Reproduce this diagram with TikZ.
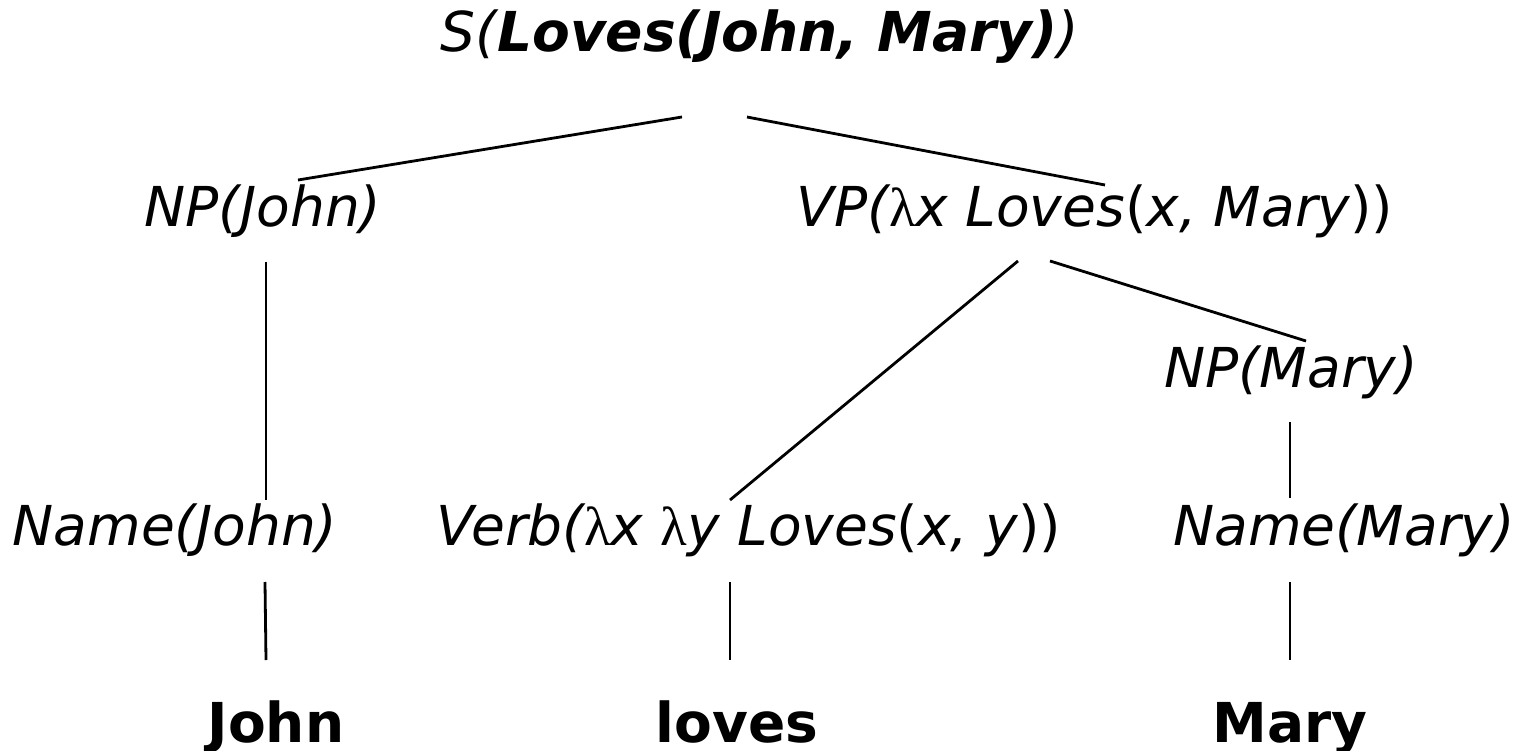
\documentclass[tikz,border=0pt]{standalone}
\usepackage{fontspec}
\setmainfont{DejaVu Sans}
\newfontfamily\lamfont{Liberation Serif}
\usetikzlibrary{calc}
\tikzset{
    word/.style={anchor=base, inner sep=0pt, font=\fontsize{55}{64}\selectfont\itshape}, % 结点文字
    leaf/.style={anchor=base, inner sep=0pt, text depth=0pt, font=\fontsize{55}{64}\selectfont\bfseries}, % 叶子
    edge/.style={line width=2.8pt} % 连线
}
\newcommand{\lam}{{\upshape\lamfont λ}}
\newcommand{\up}[1]{{\upshape #1}}

\begin{document}
\begin{tikzpicture}[x=1pt, y=-1pt]
    \useasboundingbox (0,0) rectangle (1526,751);

    \node[word] (s) at (760,52) {S(\textbf{Loves(John, Mary)})};
    \node[word] (npj) at (263,227) {NP(John)};
    \node[word] (vp) at (1095,227) {VP(\lam x Loves\up{(}x, Mary\up{))}};
    \node[word] (npm) at (1291,387) {NP(Mary)};
    \node[word] (namej) at (175,545) {Name(John)};
    \node[word] (verb) at (749,545) {Verb(\lam x \lam y Loves\up{(}x, y\up{))}};
    \node[word] (namem) at (1344,545) {Name(Mary)};
    \node[leaf] (john) at (276,742) {John};
    \node[leaf] (loves) at (737,742) {loves};
    \node[leaf] (mary) at (1290,742) {Mary};

    \draw[edge] ($(s.base)+(-78,65)$) -- ($(npj.base)+(35,-47)$);
    \draw[edge] ($(s.base)+(-13,65)$) -- ($(vp.base)+(10,-42)$);
    \draw[edge] ($(npj.base)+(3,35)$) -- ($(namej.base)+(91,-45)$);
    \draw[edge] ($(vp.base)+(-77,34)$) -- ($(verb.base)+(-19,-45)$);
    \draw[edge] ($(vp.base)+(-45,34)$) -- ($(npm.base)+(15,-46)$);
    \draw[edge] ($(npm.base)+(-1,35)$) -- ($(namem.base)+(-54,-47)$);
    \draw[edge] ($(namej.base)+(90,37)$) -- ($(john.base)+(-10,-82)$);
    \draw[edge] ($(verb.base)+(-19,37)$) -- ($(loves.base)+(-7,-82)$);
    \draw[edge] ($(namem.base)+(-54,37)$) -- ($(mary.base)+(0,-82)$);
\end{tikzpicture}
\end{document}
